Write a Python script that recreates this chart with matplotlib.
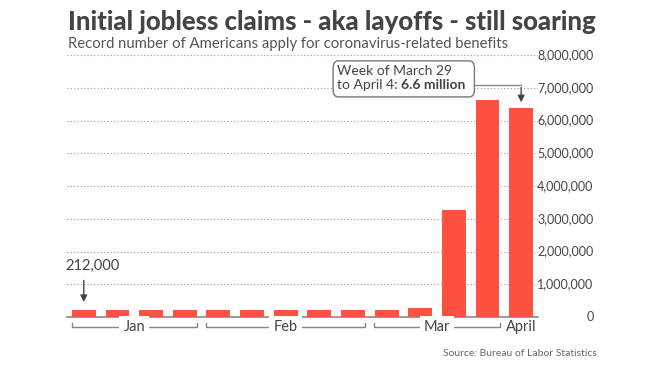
import numpy as np
import matplotlib.pyplot as plt
from matplotlib.patches import FancyBboxPatch

plt.rcParams['font.family'] = ['Lato', 'DejaVu Sans']

# weekly initial claims, week ending Jan 4 ... Apr 4
weeks = ['Jan 4', 'Jan 11', 'Jan 18', 'Jan 25',
         'Feb 1', 'Feb 8', 'Feb 15', 'Feb 22', 'Feb 29',
         'Mar 7', 'Mar 14', 'Mar 21', 'Mar 28', 'Apr 4']
claims = [212000, 207000, 220000, 215000,
          203000, 204000, 215000, 220000, 217000,
          211000, 282000, 3270000, 6640000, 6390000]
months = ['Jan', 'Feb', 'Mar']
month_spans = [(0, 3), (4, 8), (9, 12)]
yticks = [0, 1000000, 2000000, 3000000, 4000000, 5000000, 6000000, 7000000, 8000000]

RED = '#ff5140'
DARK = '#444444'
GRAY = '#888888'

fig = plt.figure(figsize=(6.6, 3.71), dpi=100)
ax = fig.add_axes([67/660, 54/371, 471/660, 262/371])

x = np.arange(len(claims))
ax.bar(x, claims, width=0.71, color=RED, zorder=3)

ax.set_xlim(-0.5, 13.5)
ax.set_ylim(0, 8000000)
ax.set_yticks(yticks)
ax.set_yticklabels([])
ax.tick_params(axis='y', length=0)
ax.set_xticks([])
for s in ['top', 'left', 'right']:
    ax.spines[s].set_visible(False)
ax.spines['bottom'].set_color(GRAY)
ax.spines['bottom'].set_linewidth(1.2)
ax.yaxis.grid(True, linestyle=(0, (1, 2)), color='#999999', linewidth=0.8, zorder=0)

# y labels on the right, right-aligned
ytrans = ax.get_yaxis_transform()
for v in yticks:
    ax.text(1.118, v, f'{v:,}', transform=ytrans, ha='right', va='center',
            fontsize=9, color=DARK, clip_on=False)

# month brackets under the bars
trans = ax.get_xaxis_transform()
by = -0.038
for name, (a, b) in zip(months, month_spans):
    x0, x1 = a - 0.36, b + 0.36
    ax.plot([x0, x0, x1, x1], [by + 0.015, by, by, by + 0.015], color=GRAY,
            lw=1, transform=trans, clip_on=False)
    ax.text((a + b) / 2, by, name, transform=trans, ha='center', va='center',
            fontsize=10.5, color=DARK,
            bbox=dict(facecolor='white', edgecolor='none', pad=3))
ax.text(13, by, 'April', transform=trans, ha='center', va='center',
        fontsize=10.5, color=DARK)

# 212,000 callout
ax.text(-0.55, 1560000, '212,000', ha='left', va='center', fontsize=10.5, color=DARK)
ax.annotate('', xy=(0, 370000), xytext=(0, 1200000),
            arrowprops=dict(arrowstyle='-|>', color=DARK, lw=1, mutation_scale=10))

# Week of March 29 callout
box = FancyBboxPatch((7.41, 6.72e6), 11.61 - 7.41, 7.82e6 - 6.72e6,
                     boxstyle='round,pad=0,rounding_size=0.15', mutation_aspect=1.5e6,
                     facecolor='white', edgecolor='#777777', lw=1, zorder=4)
ax.add_patch(box)
ax.text(7.53, 7.52e6, 'Week of March 29', ha='left', va='center',
        fontsize=10, color=DARK, zorder=5)
t2 = ax.text(7.53, 7.08e6, 'to April 4: ', ha='left', va='center',
             fontsize=10, color=DARK, zorder=5)
fig.canvas.draw()
bb = t2.get_window_extent(fig.canvas.get_renderer())
xb = ax.transData.inverted().transform((bb.x1, bb.y0))[0]
ax.text(xb, 7.08e6, '6.6 million', ha='left', va='center', fontsize=10,
        fontweight='bold', color=DARK, zorder=5)
ax.plot([11.61, 13], [7.08e6, 7.08e6], color=GRAY, lw=1, zorder=4)
ax.annotate('', xy=(13, 6.47e6), xytext=(13, 7.09e6),
            arrowprops=dict(arrowstyle='-|>', color=DARK, lw=1, mutation_scale=10))

fig.text(68/660, 1 - 22/371, 'Initial jobless claims - aka layoffs - still soaring',
         ha='left', va='center', fontsize=18.5, fontweight=900, color=DARK)
fig.text(68/660, 1 - 44/371, 'Record number of Americans apply for coronavirus-related benefits',
         ha='left', va='center', fontsize=10.75, color='#555555')
fig.text(597/660, 1 - 354/371, 'Source: Bureau of Labor Statistics',
         ha='right', va='center', fontsize=7.5, color='#666666')

fig.savefig('out.png', dpi=100)
